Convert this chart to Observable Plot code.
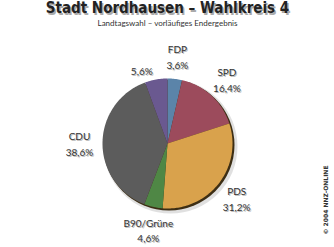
<!DOCTYPE html>
<html>
<head>
<meta charset="utf-8">
<script src="https://cdn.jsdelivr.net/npm/d3@7"></script>
<script src="https://cdn.jsdelivr.net/npm/@observablehq/plot@0.6"></script>
<style>
  html, body { margin: 0; padding: 0; background: #fff; }
  g[aria-label="copyright"] text { letter-spacing: 0.6px; }
</style>
</head>
<body>
<div id="chart"></div>
<script>
// ---- data (clockwise from 12 o'clock) ----
const parties = ["FDP", "SPD", "PDS", "B90/Grüne", "CDU", ""];
const shares  = [3.6, 16.4, 31.2, 4.6, 38.6, 5.6];
const colors  = ["#5b84a9", "#9c4b5c", "#d9a24c", "#4f8745", "#5c5c5c", "#6a5990"];
const title = "Stadt Nordhausen – Wahlkreis 4";
const subtitle = "Landtagswahl – vorläufiges Endergebnis";
const credit = "© 2004 NNZ-ONLINE";

// ---- geometry ----
const W = 334, H = 247, R = 65, CX = 167, CY = 143;
const keys = parties.map((p, i) => p || "Sonstige");
const arcs = d3.pie().sort(null).value(d => d)(shares);

const pts = [];
arcs.forEach((a, i) => {
  const k = keys[i];
  pts.push({k, x: 0, y: 0});
  const n = Math.max(4, Math.ceil((a.endAngle - a.startAngle) / 0.02));
  for (let j = 0; j <= n; j++) {
    const t = a.startAngle + (a.endAngle - a.startAngle) * j / n;
    pts.push({k, x: Math.sin(t), y: -Math.cos(t)});
  }
});

const fmt = v => String(v.toFixed(1)).replace(".", ",") + "%";
const labels = arcs.map((a, i) => {
  const named = !!parties[i];
  const mid = (a.startAngle + a.endAngle) / 2 - (named ? 0 : 0.16);
  const r = named ? 88 / R : 78 / R;
  return {
    x: r * Math.sin(mid),
    y: -r * Math.cos(mid),
    text: named ? `${parties[i]}\n${fmt(shares[i])}` : fmt(shares[i])
  };
});

const labelFont = "Lato, 'DejaVu Sans', sans-serif";
const titleFont = "'DejaVu Sans Condensed', 'Liberation Sans Narrow', sans-serif";

const chart = Plot.plot({
  width: W, height: H,
  marginTop: 0, marginRight: 0, marginBottom: 0, marginLeft: 0,
  style: {background: "#fff", overflow: "visible"},
  x: {domain: [-CX / R, (W - CX) / R], range: [0, W], axis: null},
  y: {domain: [-CY / R, (H - CY) / R], range: [0, H], axis: null},
  color: {domain: keys, range: colors},
  marks: [
    // soft shadow
    Plot.dot([0], {x: d => d, y: d => d, r: R + 2, dx: 3, dy: 3, fill: "#000", fillOpacity: 0.12, stroke: "none"}),
    Plot.dot([0], {x: d => d, y: d => d, r: R + 0.5, dx: 1.5, dy: 1.5, fill: "#3d2e14", stroke: "none"}),
    // slices
    Plot.line(pts, {x: "x", y: "y", z: "k", fill: "k", stroke: "none", curve: "linear"}),
    // slice labels (shadow + text)
    Plot.text(labels, {x: "x", y: "y", text: "text", dx: 1, dy: 1, fill: "#bbb", fontSize: 10, lineHeight: 1.6, fontFamily: labelFont}),
    Plot.text(labels, {x: "x", y: "y", text: "text", fill: "#333", fontSize: 10, lineHeight: 1.6, fontFamily: labelFont}),
    // title with shadow
    Plot.text([title], {text: d => d, frameAnchor: "top", dy: 2 + 1.5, dx: 1.5, fill: "#aaa", fontSize: 15, fontWeight: "bold", fontFamily: titleFont}),
    Plot.text([title], {text: d => d, frameAnchor: "top", dy: 2, fill: "#222", fontSize: 15, fontWeight: "bold", fontFamily: titleFont}),
    Plot.text([subtitle], {text: d => d, frameAnchor: "top", dy: 20, fill: "#333", fontSize: 8, fontFamily: labelFont}),
    // credit
    Plot.text([credit], {text: d => d, frameAnchor: "right", textAnchor: "middle", dx: -8, dy: 76, rotate: -90, fill: "#333", fontSize: 6, fontWeight: "bold", fontFamily: "'DejaVu Sans', sans-serif", ariaLabel: "copyright"})
  ]
});
document.getElementById("chart").appendChild(chart);
</script>
</body>
</html>
